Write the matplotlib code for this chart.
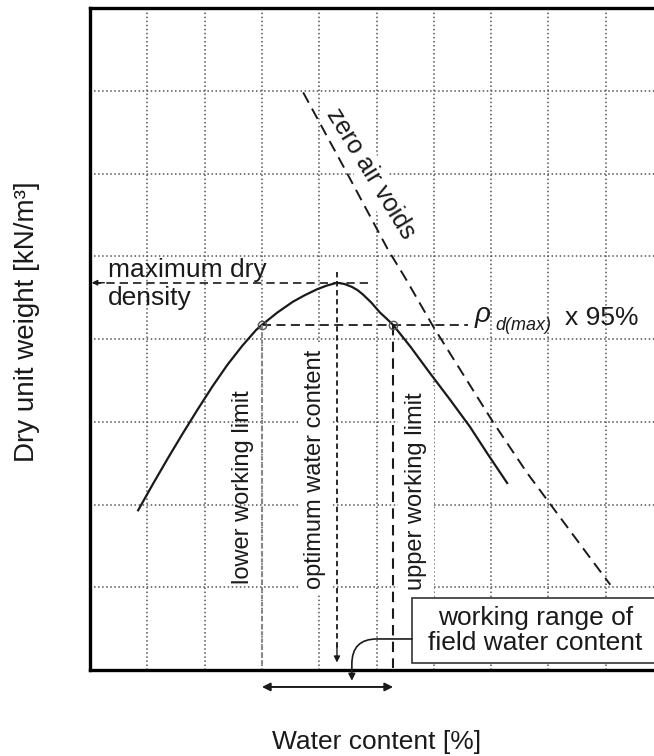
import matplotlib
matplotlib.use('Agg')
import matplotlib.pyplot as plt
from matplotlib.patches import Rectangle

plt.rcParams['font.family'] = ['Liberation Sans', 'DejaVu Sans']

# compaction curve (schematic units, no tick values shown)
water = [0.84, 1.10, 1.36, 1.62, 1.88, 2.14, 2.40, 2.66, 2.90, 3.00, 3.27, 3.54, 3.75,
         3.96, 4.13, 4.31, 4.44, 4.57, 4.67, 4.76, 4.91, 5.06, 5.17, 5.29, 5.60, 5.93,
         6.28, 6.63, 6.95, 7.28]
dry_weight = [1.93, 2.25, 2.56, 2.86, 3.15, 3.43, 3.69, 3.92, 4.11, 4.17, 4.32, 4.45, 4.53,
              4.60, 4.645, 4.68, 4.665, 4.63, 4.59, 4.54, 4.44, 4.32, 4.25, 4.17, 3.90, 3.59,
              3.27, 2.94, 2.60, 2.26]

# zero air voids line
zav_water = [3.72, 4.45, 5.20, 5.50, 5.99, 7.03, 7.63, 8.67, 9.08]
zav_weight = [6.98, 6.05, 5.08, 4.74, 4.15, 3.00, 2.38, 1.41, 1.03]

# characteristic points of the curve
w_opt, gamma_max = 4.31, 4.68
gamma_95 = 4.17
w_lower, w_upper = 3.00, 5.29

fig = plt.figure(figsize=(6.54, 7.56), dpi=100)
ax = fig.add_axes([90 / 654, 86 / 756, 573 / 654, 662 / 756])
ax.set_xlim(0, 10)
ax.set_ylim(0, 8)
ax.set_xticks(range(11))
ax.set_yticks(range(9))
ax.tick_params(length=0, labelbottom=False, labelleft=False)
ax.grid(True, linestyle=':', color='#555555', lw=1.1)
ax.set_axisbelow(True)
for side in ['left', 'bottom', 'top', 'right']:
    ax.spines[side].set_linewidth(2.4)

ink = '#1a1a1a'

# curves
ax.plot(water, dry_weight, color=ink, lw=1.6, zorder=4)
ax.plot(zav_water, zav_weight, color=ink, lw=1.4, dashes=(6, 3.5), zorder=4)

# maximum dry density / optimum water content
ax.plot([0.05, 4.85], [gamma_max, gamma_max], color=ink, lw=1.2, dashes=(5, 3), zorder=4)
ax.annotate('', xy=(0.03, gamma_max), xytext=(0.25, gamma_max),
            arrowprops=dict(arrowstyle='-|>', color=ink, lw=1, mutation_scale=8,
                            shrinkA=0, shrinkB=0), zorder=4)
ax.plot([w_opt, w_opt], [4.81, 0.25], color=ink, lw=1.3, dashes=(3, 2), zorder=4)
ax.annotate('', xy=(w_opt, 0.09), xytext=(w_opt, 0.3),
            arrowprops=dict(arrowstyle='-|>', color=ink, lw=1, mutation_scale=9,
                            shrinkA=0, shrinkB=0), zorder=4)

# 95 % level and working limits
ax.plot([w_lower, 6.60], [gamma_95, gamma_95], color=ink, lw=1.3, dashes=(5, 3), zorder=4)
ax.plot([w_lower, w_lower], [gamma_95, 0.06], color='#888888', lw=1.5, dashes=(2, 1.5), zorder=4)
ax.plot([w_upper, w_upper], [gamma_95, 0.02], color=ink, lw=1.5, dashes=(5, 3), zorder=4)
ax.plot([w_lower, w_upper], [gamma_95, gamma_95], 'o', mfc='none', mec='#555555',
        ms=6, mew=1, zorder=5)

# text labels
ax.text(0.31, 4.75, 'maximum dry', fontsize=19, color=ink, va='baseline')
ax.text(0.31, 4.41, 'density', fontsize=19, color=ink, va='baseline')
ax.text(4.90, 6.00, 'zero air voids', fontsize=18, color=ink, rotation=-58.5,
        rotation_mode='anchor', ha='center', va='center',
        bbox=dict(fc='white', ec='none', pad=2), zorder=3)
ax.text(2.67, 2.21, 'lower working limit', fontsize=17, color=ink, rotation=90,
        ha='center', va='center', zorder=3)
ax.text(3.93, 2.42, 'optimum water content', fontsize=17, color=ink, rotation=90,
        ha='center', va='center', bbox=dict(fc='white', ec='none', pad=4), zorder=3)
ax.text(5.69, 2.16, 'upper working limit', fontsize=17, color=ink, rotation=90,
        ha='center', va='center', bbox=dict(fc='white', ec='none', pad=5), zorder=3)

ax.text(6.72, 4.20, 'ρ', fontsize=20, style='italic', color=ink, va='baseline')
ax.text(7.07, 4.11, 'd(max)', fontsize=13, style='italic', color=ink, va='baseline')
ax.text(8.29, 4.17, 'x 95%', fontsize=19, color=ink, va='baseline')

# working range of field water content
ax.add_patch(Rectangle((5.62, 0.085), 5.0, 0.785, fc='white', ec='#333333', lw=1.2,
                       zorder=5, clip_on=False))
ax.text(7.77, 0.48, 'working range of\nfield water content', fontsize=19, color=ink,
        ha='center', va='center', linespacing=1.05, zorder=6)
ax.annotate('', xy=(4.57, -0.13), xytext=(5.62, 0.375),
            arrowprops=dict(arrowstyle='-|>', connectionstyle='angle,angleA=0,angleB=90,rad=25',
                            color=ink, lw=1.2, mutation_scale=10, shrinkA=0, shrinkB=0),
            annotation_clip=False, zorder=6)
ax.annotate('', xy=(w_lower, -0.205), xytext=(w_upper, -0.205),
            arrowprops=dict(arrowstyle='<|-|>', color=ink, lw=1.4, mutation_scale=12,
                            shrinkA=0, shrinkB=0),
            annotation_clip=False)

ax.set_xlabel('Water content [%]', fontsize=19, color=ink)
ax.xaxis.set_label_coords(0.5, -0.09)
ax.set_ylabel('Dry unit weight [kN/m³]', fontsize=20, color=ink)
ax.yaxis.set_label_coords(-0.087, 0.526)

fig.savefig('out.png', dpi=100)
